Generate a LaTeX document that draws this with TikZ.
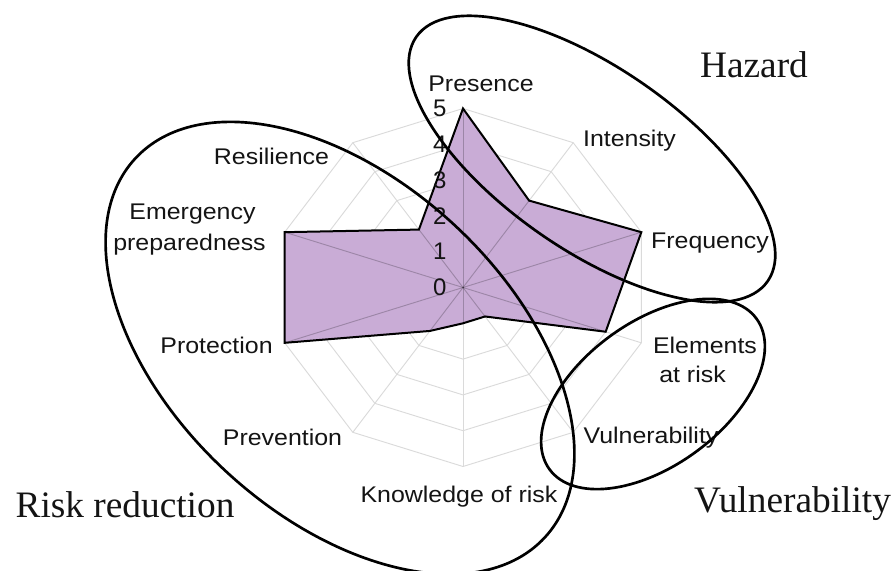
\documentclass[tikz,border=0pt]{standalone}
\usepackage{fontspec}
\setmainfont{Liberation Serif}
\setsansfont{Liberation Sans}
\definecolor{areafill}{RGB}{201,172,214}
\definecolor{gridgray}{RGB}{218,218,218}
\definecolor{labtext}{RGB}{20,20,20}
\begin{document}
\begin{tikzpicture}[x=0.75pt,y=-0.75pt,
  gridline/.style={draw=gridgray, line width=0.7pt},
  spokein/.style={draw=black, opacity=0.22, line width=0.7pt},
  lab/.style={font=\sffamily\fontsize{17}{20}\selectfont, xscale=1.1, inner sep=0pt, anchor=base, text=labtext},
  num/.style={font=\sffamily\fontsize{18}{21}\selectfont, inner sep=0pt, text=labtext},
  big/.style={font=\fontsize{28}{32}\selectfont, inner sep=0pt, anchor=base, text=labtext},
  loopline/.style={draw=black, line width=2pt}]
\useasboundingbox (0,0) rectangle (896,571);
\begin{scope}[shift={(463,287.5)}, x=28.125pt, y=26.85pt]
  % grid rings
  \foreach \r in {1,...,5}
    \draw[gridline] (90:\r) \foreach \a in {54,18,...,-234}{ -- (\a:\r)} -- cycle;
  \coordinate (c0) at (0,0);
  \foreach \a [count=\i] in {90,54,...,-234}
    \coordinate (s\i) at (\a:5);
  \foreach \i in {1,...,10}
    \draw[gridline] (c0) -- (s\i);
  % data
  \coordinate (p1) at (90:5);
  \coordinate (p2) at (54:3);
  \coordinate (p3) at (18:5);
  \coordinate (p4) at (-18:4);
  \coordinate (p5) at (-54:1);
  \coordinate (p6) at (-90:1);
  \coordinate (p7) at (-126:1.5);
  \coordinate (p8) at (-162:5);
  \coordinate (p9) at (162:5);
  \coordinate (p10) at (126:2);
  \fill[areafill] (p1) -- (p2) -- (p3) -- (p4) -- (p5) -- (p6) -- (p7) -- (p8) -- (p9) -- (p10) -- cycle;
  \begin{scope}
    \clip (p1) -- (p2) -- (p3) -- (p4) -- (p5) -- (p6) -- (p7) -- (p8) -- (p9) -- (p10) -- cycle;
    \foreach \i in {1,...,10}
      \draw[spokein] (c0) -- (s\i);
  \end{scope}
  \draw[line width=1.5pt, line join=miter] (p1) -- (p2) -- (p3) -- (p4) -- (p5) -- (p6) -- (p7) -- (p8) -- (p9) -- (p10) -- cycle;
  % scale numbers
  \foreach \k in {0,...,5}
    \node[num] (n\k) at (-0.62,\k) {\k};
\end{scope}
% axis labels
\node[lab] (presence) at (481,91) {Presence};
\node[lab] (intensity) at (629.5,146) {Intensity};
\node[lab] (frequency) at (710,248) {Frequency};
\node[lab] (elements) at (705,353) {Elements};
\node[lab] (atrisk) at (692.5,382) {at risk};
\node[lab] (vulnlab) at (651,443) {Vulnerability};
\node[lab] (knowledge) at (459,502) {Knowledge of risk};
\node[lab] (prevention) at (282.5,445) {Prevention};
\node[lab] (protection) at (216.5,353) {Protection};
\node[lab] (emergency) at (192.5,219) {Emergency};
\node[lab] (prepared) at (189.5,250) {preparedness};
\node[lab] (resilience) at (271.5,164) {Resilience};
% group labels
\node[big] (hazard) at (754,77) {Hazard};
\node[big] (riskred) at (125,517) {Risk reduction};
\node[big] (vulngroup) at (792.5,512) {Vulnerability};
% group ellipses
\draw[loopline, rotate around={-34.8:(592,159)}] (592,159) ellipse [x radius=160.5pt, y radius=68.25pt];
\draw[loopline, rotate around={-42.8:(340,348)}] (340,348) ellipse [x radius=209.25pt, y radius=126pt];
\draw[loopline, rotate around={36:(653,394)}] (653,394) ellipse [x radius=96pt, y radius=54pt];
\end{tikzpicture}
\end{document}
